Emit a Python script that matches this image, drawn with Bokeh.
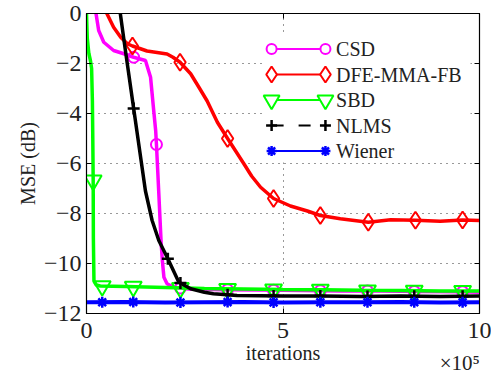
import numpy as np
from bokeh.plotting import figure
from bokeh.models import FixedTicker, LinearAxis, Range1d
from bokeh.core.properties import value
from bokeh.embed import file_html
from bokeh.resources import INLINE

# ---- data (iterations in units of 1e5, MSE in dB) ----
csd_x = [0.20, 0.23, 0.31, 0.44, 0.69, 0.95, 1.20, 1.50, 1.63, 1.71, 1.76, 1.78, 1.84, 1.90,
         1.93, 1.97, 2.05, 2.22, 2.60, 3.50, 4.50, 5.50, 6.50, 7.50, 8.50, 9.50, 10.0]
csd_y = [0.30, 0.12, -0.68, -1.15, -1.48, -1.61, -1.75, -1.88, -2.55, -3.88, -4.68, -5.24, -7.20, -9.20,
         -9.88, -10.55, -10.81, -10.95, -11.02, -11.05, -11.06, -11.08, -11.10, -11.10, -11.12, -11.13, -11.15]
csd_mx = [1.20, 1.78, 2.39, 3.59, 4.76, 5.95, 7.15, 8.34, 9.57]

dfe_x = [0.44, 0.48, 0.69, 0.87, 1.04, 1.17, 1.54, 2.05, 2.20, 2.38, 2.65, 2.86, 3.07, 3.33, 3.59,
         4.00, 4.20, 4.43, 4.76, 5.19, 5.62, 5.95, 6.46, 7.17, 7.74, 8.37, 9.00, 9.57, 10.0]
dfe_y = [0.15, 0.12, -0.55, -0.95, -1.21, -1.30, -1.50, -1.62, -1.75, -1.95, -2.41, -2.95, -3.50, -4.35, -5.00,
         -6.00, -6.50, -6.95, -7.40, -7.70, -7.90, -8.08, -8.21, -8.35, -8.25, -8.27, -8.31, -8.26, -8.28]
dfe_mx = [1.17, 2.38, 3.59, 4.76, 5.95, 7.17, 8.37, 9.57]

sbd_x = [0.00, 0.02, 0.06, 0.10, 0.13, 0.15, 0.16, 0.17, 0.175, 0.19, 0.25, 0.35, 1.00, 2.00, 3.00,
         4.00, 5.00, 6.00, 7.00, 8.00, 9.00, 10.0]
sbd_y = [0.00, -1.00, -1.60, -1.88, -2.20, -3.50, -5.00, -6.68, -9.00, -10.70, -10.86, -10.90, -10.92, -10.96, -11.00,
         -11.02, -11.04, -11.05, -11.07, -11.08, -11.10, -11.10]
sbd_mx = [0.17, 0.40, 1.19, 2.39, 3.59, 4.76, 5.95, 7.15, 8.34, 9.57]

nlms_x = [0.80, 0.86, 0.99, 1.20, 1.50, 1.67, 1.84, 2.07, 2.35, 2.65, 3.00, 3.23, 3.83,
          5.00, 6.00, 7.00, 8.00, 9.00, 10.0]
nlms_y = [0.40, 0.00, -1.48, -3.80, -7.10, -8.28, -9.08, -9.81, -10.75, -11.01, -11.15, -11.21, -11.28,
          -11.30, -11.30, -11.32, -11.30, -11.32, -11.30]
nlms_mx = [1.20, 2.07, 2.39, 3.59, 4.76, 5.95, 7.15, 8.34, 9.57]

wiener_x = [0.0, 1.0, 2.0, 3.0, 4.0, 5.0, 6.0, 7.0, 8.0, 9.0, 10.0]
wiener_y = [-11.55, -11.54, -11.56, -11.55, -11.54, -11.56, -11.55, -11.55, -11.54, -11.56, -11.55]
wiener_mx = [0.40, 1.19, 2.39, 3.59, 4.76, 5.95, 7.15, 8.34, 9.57]

names = ["CSD", "DFE-MMA-FB", "SBD", "NLMS", "Wiener"]
x_ticks = [0, 5, 10]
y_ticks = [0, -2, -4, -6, -8, -10, -12]
scale_tick = 9.5           # where the x scale factor is centred
scale_text = "\u00d710\u2075"

SERIF = "Liberation Serif"
INK = "#222222"

p = figure(width=491, height=377, x_range=Range1d(0, 10), y_range=Range1d(-12, 0),
           output_backend="svg", toolbar_location=None,
           min_border_left=86, min_border_right=12, min_border_top=13, min_border_bottom=64)
p.background_fill_color = "white"
p.border_fill_color = "white"
p.outline_line_color = "black"
p.outline_line_width = 1.2

# axes
p.xaxis.ticker = FixedTicker(ticks=x_ticks)
p.yaxis.ticker = FixedTicker(ticks=y_ticks)
p.yaxis.major_label_overrides = {t: ("0" if t == 0 else "\u2212" + str(-t)) for t in y_ticks}
for ax in (p.xaxis[0], p.yaxis[0]):
    ax.major_label_text_font = SERIF
    ax.major_label_text_font_size = "24px"
    ax.major_label_text_color = INK
    ax.axis_label_text_font = SERIF
    ax.axis_label_text_font_size = "20px"
    ax.axis_label_text_font_style = "normal"
    ax.axis_label_text_color = INK
    ax.major_tick_in = 5
    ax.major_tick_out = 0
    ax.minor_tick_line_color = None
    ax.axis_line_color = "black"
    ax.major_tick_line_color = "black"
p.xaxis.axis_label = "iterations"
p.yaxis.axis_label = "MSE (dB)"
p.xaxis.major_label_standoff = 9
p.yaxis.major_label_standoff = 5
p.xaxis.axis_label_standoff = 1
p.yaxis.axis_label_standoff = 2

# scale factor for the x axis, on its own label-only axis under the main one
scale_axis = LinearAxis(ticker=FixedTicker(ticks=[scale_tick]),
                        major_label_overrides={scale_tick: scale_text},
                        major_label_text_font=SERIF, major_label_text_font_size="21px",
                        major_label_text_color=INK, major_label_standoff=-16,
                        axis_line_color=None, major_tick_line_color=None,
                        minor_tick_line_color=None, major_tick_in=0, major_tick_out=0)
p.add_layout(scale_axis, "below")

# inward ticks on the opposite sides (no labels)
top = LinearAxis(ticker=FixedTicker(ticks=x_ticks), major_label_text_font_size="1px",
                 major_label_text_color=None, major_tick_in=5, major_tick_out=0,
                 minor_tick_line_color=None, major_label_standoff=0, axis_line_color="black")
right = LinearAxis(ticker=FixedTicker(ticks=y_ticks), major_label_text_font_size="1px",
                   major_label_text_color=None, major_tick_in=5, major_tick_out=0,
                   minor_tick_line_color=None, major_label_standoff=0, axis_line_color="black")
p.add_layout(top, "above")
p.add_layout(right, "right")

# dotted grid
p.xgrid.ticker = FixedTicker(ticks=x_ticks)
p.ygrid.ticker = FixedTicker(ticks=y_ticks)
for g in (p.xgrid[0], p.ygrid[0]):
    g.grid_line_color = "#333333"
    g.grid_line_dash = "1 5"
    g.grid_line_width = 1

styles = [
    dict(color="#FF00FF", marker="circle", size=11, lw=2),
    dict(color="#FF0000", marker="diamond", size=17, lw=2),
    dict(color="#00FF00", marker="inverted_triangle", size=17, lw=2),
    dict(color="black", marker="cross", size=12, lw=2.5),
    dict(color="#0000FF", marker="asterisk", size=11, lw=2.5),
]
series = [(csd_x, csd_y, csd_mx), (dfe_x, dfe_y, dfe_mx), (sbd_x, sbd_y, sbd_mx),
          (nlms_x, nlms_y, nlms_mx), (wiener_x, wiener_y, wiener_mx)]

for (xs, ys, mx), st in zip(series, styles):
    lw = 4 if st["marker"] == "asterisk" else 3.5
    p.line(xs, ys, line_color=st["color"], line_width=lw)
    my = np.interp(mx, xs, ys)
    p.scatter(mx, my, marker=st["marker"], size=st["size"], line_color=st["color"],
              fill_color=None, line_width=st["lw"])

# legend, drawn on a white panel in the upper right
LEG_LEFT, LEG_RIGHT, LEG_TOP, LEG_BOTTOM = 4.48, 9.77, -0.76, -5.96
SAMPLE_X0, SAMPLE_X1, TEXT_X = 4.71, 6.08, 6.35
ROW0, ROW_STEP = -1.42, -1.02
p.quad(left=[LEG_LEFT], right=[LEG_RIGHT], top=[LEG_TOP], bottom=[LEG_BOTTOM],
       fill_color="white", line_color=None)
for i, (name, st) in enumerate(zip(names, styles)):
    yy = ROW0 + i * ROW_STEP
    dash = "12 15" if st["marker"] == "cross" else "solid"
    p.line([SAMPLE_X0, SAMPLE_X1], [yy, yy], line_color=st["color"], line_width=2, line_dash=dash)
    p.scatter([SAMPLE_X0, SAMPLE_X1], [yy, yy], marker=st["marker"], size=st["size"] - 1,
              line_color=st["color"], fill_color="white", line_width=st["lw"])
    p.text([TEXT_X], [yy], text=[name], text_font=value(SERIF), text_font_size="20px",
           text_baseline="middle", text_align="left", text_color=INK)

open("out.html", "w").write(file_html(p, INLINE))
